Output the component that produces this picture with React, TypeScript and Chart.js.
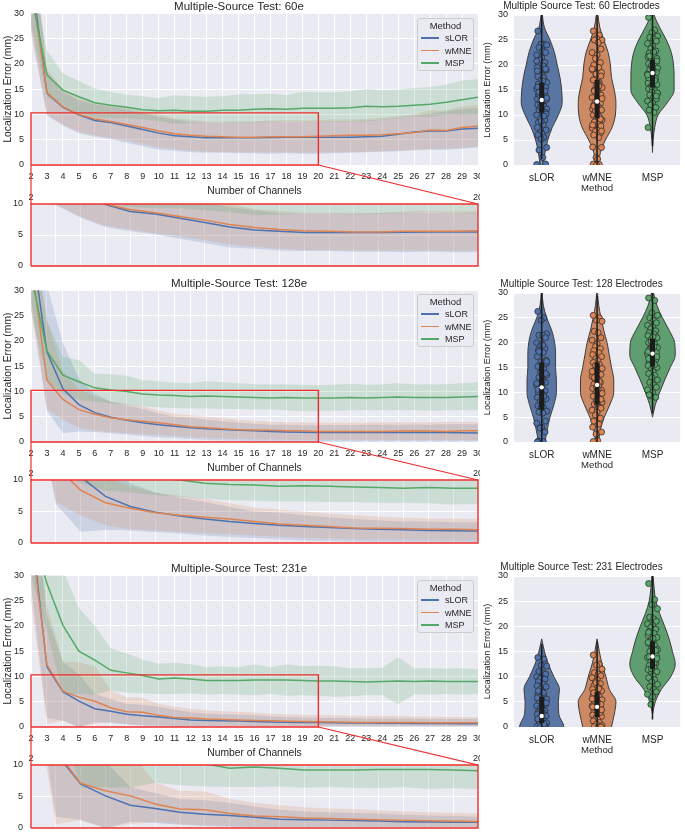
import React, { useEffect, useRef, useState } from 'react';
import { Chart, registerables } from 'chart.js';
Chart.register(...registerables);

const FONT = "'Liberation Sans', Arial, Helvetica, sans-serif";
const TXT = '#262626';
const BG = '#eaeaf2';
const LINE_COLORS = ['#4c72b0', '#dd8452', '#55a868'];
const VIOLIN_FILLS = ['#5975a4', '#cc8963', '#5f9e6e'];
const EDGE = '#3d3d3d';
const RED = '#ee2c2c';

const METHODS = ['sLOR', 'wMNE', 'MSP'];
const CHANNELS = [2, 3, 4, 5, 6, 7, 8, 9, 10, 11, 12, 13, 14, 15, 16, 17, 18, 19, 20, 21, 22, 23, 24, 25, 26, 27, 28, 29, 30];
const ZOOM_X = [2, 20];
const ZOOM_Y = [0, 10];
const RECT_TOPS = [10.3, 10.2, 10.3];

// ---- 60 electrodes ----
const E60_SLOR = [38, 14.2, 11.4, 9.9, 8.8, 8.4, 7.7, 7.0, 6.3, 5.8, 5.6, 5.4, 5.4, 5.4, 5.4, 5.45, 5.5, 5.5, 5.5, 5.5, 5.5, 5.6, 5.7, 6.1, 6.5, 6.7, 6.7, 7.1, 7.25];
const E60_WMNE = [36, 14.3, 11.5, 10.0, 9.1, 8.6, 8.0, 7.4, 6.7, 6.2, 5.9, 5.7, 5.6, 5.5, 5.5, 5.6, 5.6, 5.6, 5.7, 5.8, 5.9, 5.9, 6.0, 6.2, 6.4, 6.9, 6.8, 7.4, 7.7];
const E60_MSP = [34, 17.8, 14.8, 13.5, 12.3, 11.8, 11.4, 10.9, 10.7, 10.8, 10.6, 10.6, 10.8, 10.8, 11.0, 11.1, 11.0, 11.2, 11.2, 11.2, 11.3, 11.6, 11.5, 11.6, 11.8, 12.0, 12.4, 12.9, 13.4];
const E60_SLOR_HI = [48, 18.5, 14.5, 12.8, 12.0, 11.5, 11.0, 10.3, 9.5, 9.0, 8.5, 8.4, 8.4, 8.4, 8.5, 8.6, 8.6, 8.5, 8.5, 8.7, 8.7, 8.8, 9.0, 9.4, 9.8, 10.2, 10.6, 11.0, 11.3];
const E60_SLOR_LO = [27, 9.8, 7.8, 6.3, 5.6, 5.1, 4.4, 3.7, 3.0, 2.8, 2.5, 2.4, 2.4, 2.3, 2.3, 2.2, 2.3, 2.2, 2.2, 2.3, 2.4, 2.5, 2.6, 2.7, 2.9, 3.0, 3.0, 3.2, 3.5];
const E60_WMNE_HI = [46, 19, 15, 13.2, 12.4, 11.8, 11.3, 10.7, 10.0, 9.2, 8.9, 8.6, 8.6, 8.6, 8.6, 8.8, 8.9, 8.8, 8.9, 9.0, 9.0, 9.1, 9.4, 9.7, 10.0, 10.8, 10.8, 11.6, 11.9];
const E60_WMNE_LO = [26, 10.0, 8.0, 6.5, 5.9, 5.3, 4.8, 4.2, 3.5, 3.1, 2.8, 2.6, 2.6, 2.5, 2.5, 2.5, 2.5, 2.4, 2.5, 2.5, 2.6, 2.6, 2.7, 2.8, 3.0, 3.2, 3.2, 3.4, 3.7];
const E60_MSP_HI = [40, 22.6, 18.1, 16.6, 15.1, 14.5, 13.9, 13.6, 13.2, 13.8, 13.6, 13.5, 13.6, 14.0, 14.0, 14.1, 13.8, 14.5, 14.4, 14.4, 14.6, 15.0, 14.8, 14.9, 15.2, 15.4, 15.9, 16.7, 17.0];
const E60_MSP_LO = [28, 13.5, 11.5, 10.2, 9.5, 9.3, 9.3, 9.0, 8.7, 8.2, 8.3, 8.4, 8.4, 8.3, 8.4, 8.5, 8.7, 8.5, 8.4, 8.6, 8.6, 8.6, 8.9, 9.3, 9.7, 9.5, 10.0, 9.9, 10.0];

// ---- 128 electrodes ----
const E128_SLOR = [40, 17.8, 10.5, 7.4, 5.8, 4.9, 4.3, 3.8, 3.4, 3.1, 2.8, 2.6, 2.45, 2.3, 2.2, 2.1, 2.0, 1.95, 1.9, 1.9, 1.9, 1.9, 1.9, 1.9, 1.9, 1.9, 1.9, 1.85, 1.8];
const E128_WMNE = [36, 12.2, 8.4, 6.4, 5.5, 4.8, 4.4, 4.1, 3.8, 3.4, 3.0, 2.8, 2.6, 2.4, 2.35, 2.3, 2.2, 2.2, 2.1, 2.1, 2.1, 2.1, 2.1, 2.15, 2.2, 2.15, 2.1, 2.2, 2.2];
const E128_MSP = [33, 18.0, 13.2, 11.9, 10.7, 10.3, 10.0, 9.5, 9.3, 9.2, 9.0, 9.1, 9.0, 8.9, 8.8, 8.7, 8.8, 8.7, 8.7, 8.7, 8.8, 8.7, 8.8, 8.9, 8.8, 8.8, 8.8, 8.9, 9.0];
const E128_SLOR_HI = [50, 31, 19.5, 12.5, 9.5, 8.0, 7.2, 6.5, 5.7, 5.0, 4.8, 4.4, 4.1, 3.8, 3.6, 3.4, 3.4, 3.3, 3.3, 3.3, 3.3, 3.4, 3.4, 3.4, 3.4, 3.4, 3.5, 3.5, 3.5];
const E128_SLOR_LO = [28, 6.2, 1.8, 2.1, 2.0, 1.75, 1.5, 1.2, 0.95, 0.8, 0.6, 0.4, 0.3, 0.25, 0.2, 0.15, 0.1, 0.1, 0.1, 0.1, 0.1, 0.1, 0.1, 0.1, 0.1, 0.1, 0.1, 0.1, 0.1];
const E128_WMNE_HI = [46, 24, 14, 10.5, 9.0, 8.0, 7.5, 7.0, 6.3, 5.6, 5.3, 5.0, 4.7, 4.4, 4.2, 4.0, 3.9, 3.9, 3.8, 3.8, 3.8, 3.8, 3.9, 3.9, 3.9, 3.9, 4.0, 4.0, 4.0];
const E128_WMNE_LO = [26, 6.5, 4.4, 2.8, 2.2, 2.0, 1.8, 1.6, 1.4, 1.2, 1.0, 0.8, 0.7, 0.6, 0.5, 0.5, 0.45, 0.4, 0.4, 0.4, 0.4, 0.4, 0.4, 0.4, 0.4, 0.4, 0.4, 0.4, 0.4];
const E128_MSP_HI = [42, 24, 16.8, 16.2, 13.5, 13.4, 13.1, 12.2, 12.0, 11.7, 11.6, 12.0, 11.8, 11.6, 11.4, 11.4, 11.4, 11.3, 11.2, 11.3, 11.5, 11.3, 11.4, 11.6, 11.4, 11.4, 11.4, 11.6, 11.8];
const E128_MSP_LO = [26, 12, 9.5, 8.3, 8.0, 7.6, 7.3, 7.0, 6.8, 6.7, 6.6, 6.6, 6.5, 6.5, 6.4, 6.4, 6.3, 6.1, 6.2, 6.2, 6.3, 6.3, 6.3, 6.3, 6.3, 6.2, 6.3, 6.3, 6.3];

// ---- 231 electrodes ----
const E231_SLOR = [40, 11.9, 7.0, 5.1, 3.6, 3.1, 2.5, 2.2, 2.0, 1.7, 1.4, 1.3, 1.25, 1.2, 1.1, 1.0, 0.95, 0.9, 0.9, 0.85, 0.8, 0.8, 0.75, 0.75, 0.7, 0.7, 0.7, 0.65, 0.65];
const E231_WMNE = [38, 12.3, 7.1, 5.9, 5.1, 3.8, 3.0, 2.9, 2.3, 1.9, 1.8, 1.6, 1.5, 1.4, 1.3, 1.25, 1.15, 1.1, 1.05, 1.0, 0.95, 0.9, 0.9, 0.9, 0.9, 0.85, 0.85, 0.85, 0.85];
const E231_MSP = [40, 28.3, 20.1, 15.0, 13.2, 11.2, 10.7, 10.2, 9.5, 9.7, 9.5, 9.2, 9.2, 9.2, 9.3, 9.3, 9.3, 9.2, 9.1, 9.1, 9.0, 8.9, 9.0, 9.1, 9.0, 9.1, 9.0, 9.0, 9.0];
const E231_SLOR_HI = [50, 22, 12.8, 10.5, 6.5, 5.5, 4.6, 4.4, 4.0, 3.4, 2.9, 2.6, 2.5, 2.4, 2.3, 2.1, 2.0, 1.9, 1.8, 1.8, 1.8, 1.7, 1.7, 1.7, 1.7, 1.6, 1.6, 1.6, 1.6];
const E231_SLOR_LO = [28, 1.8, 1.3, 0.0, 1.0, 0.8, 0.5, 0.3, 0.2, 0.1, 0.1, 0.1, 0.1, 0.1, 0.1, 0.1, 0.1, 0.1, 0.1, 0.1, 0.1, 0.1, 0.1, 0.1, 0.1, 0.1, 0.1, 0.1, 0.1];
const E231_WMNE_HI = [48, 24, 13.0, 12.8, 12.0, 7.2, 5.9, 5.8, 4.6, 4.0, 3.6, 3.3, 3.1, 3.0, 2.8, 2.6, 2.5, 2.4, 2.3, 2.3, 2.2, 2.2, 2.2, 2.2, 2.1, 2.1, 2.0, 2.0, 2.0];
const E231_WMNE_LO = [25, 0.6, 1.2, 0.0, 0.6, 1.0, 0.6, 0.4, 0.3, 0.2, 0.2, 0.2, 0.2, 0.2, 0.2, 0.2, 0.2, 0.2, 0.2, 0.2, 0.2, 0.2, 0.2, 0.2, 0.2, 0.2, 0.2, 0.2, 0.2];
const E231_MSP_HI = [50, 38, 31, 23.5, 20.0, 15.5, 14.6, 13.3, 12.5, 12.7, 12.4, 11.8, 12.0, 11.8, 12.4, 11.8, 12.4, 12.0, 12.1, 12.0, 11.6, 11.6, 11.7, 13.8, 11.6, 11.6, 11.5, 11.6, 11.4];
const E231_MSP_LO = [30, 19, 6.4, 6.5, 6.4, 7.2, 6.8, 6.6, 6.5, 6.5, 6.6, 6.4, 6.5, 6.4, 6.3, 6.5, 6.2, 6.3, 6.2, 6.0, 6.1, 6.3, 6.3, 4.5, 6.4, 6.4, 6.5, 6.4, 6.5];

// ---- violin shapes: half widths (category units) on Y_GRID ----
const Y_GRID = [-2.5, 0, 2.5, 5, 7.5, 10, 12.5, 15, 17.5, 20, 22.5, 25, 27.5, 30, 32.5];
const W60_SLOR = [0.02, 0.03, 0.06, 0.11, 0.19, 0.3, 0.37, 0.36, 0.33, 0.28, 0.23, 0.15, 0.05, 0.012, 0.002];
const W60_WMNE = [0.02, 0.03, 0.06, 0.15, 0.27, 0.33, 0.34, 0.31, 0.26, 0.24, 0.2, 0.12, 0.05, 0.015, 0.002];
const W60_MSP = [null, null, 0, 0.01, 0.04, 0.1, 0.27, 0.39, 0.39, 0.38, 0.34, 0.25, 0.13, 0.03, 0.003];
const W128_SLOR = [0.04, 0.06, 0.1, 0.15, 0.22, 0.265, 0.265, 0.25, 0.25, 0.235, 0.18, 0.09, 0.03, 0.008, 0.001];
const W128_WMNE = [0.02, 0.03, 0.06, 0.13, 0.23, 0.3, 0.3, 0.26, 0.22, 0.18, 0.12, 0.07, 0.03, 0.008, 0.001];
const W128_MSP = [null, null, null, 0, 0.05, 0.13, 0.22, 0.32, 0.41, 0.4, 0.3, 0.18, 0.08, 0.02, 0.003];
const W231_SLOR = [0.4, 0.4, 0.31, 0.3, 0.32, 0.22, 0.12, 0.05, 0, null, null, null, null, null, null];
const W231_WMNE = [0.24, 0.26, 0.31, 0.34, 0.22, 0.16, 0.09, 0.04, 0, null, null, null, null, null, null];
const W231_MSP = [null, null, 0, 0.05, 0.16, 0.33, 0.41, 0.36, 0.3, 0.22, 0.13, 0.06, 0.03, 0.01, 0.002];

// ---- strip points ----
const P60_SLOR = [26.8, 24.2, 24.2, 24.0, 23.5, 22.8, 22.5, 22.0, 21.5, 21.0, 20.5, 20.0, 19.8, 19.5, 19.0, 18.5, 18.0, 17.7, 17.3, 17.0, 16.5, 16.0, 15.8, 15.5, 15.2, 15.0, 14.5, 14.2, 14.0, 13.5, 13.2, 13.0, 12.7, 12.3, 12.0, 11.8, 11.5, 11.2, 11.0, 10.7, 10.5, 10.0, 9.5, 9.2, 9.0, 8.5, 8.0, 7.5, 7.0, 6.5, 6.2, 6.0, 5.5, 5.2, 3.5, 3.0, 1.5, 0.2, 0.1, 12.5, 13.8, 14.8, 16.2, 17.5, 18.8, 10.2, 11.6, 12.9, 15.6, 9.8, 8.8, 13.4, 14.6, 16.8, 19.2, 20.8];
const P60_WMNE = [26.8, 26.0, 25.3, 25.0, 25.0, 24.5, 23.2, 22.5, 22.0, 21.3, 20.5, 20.0, 19.5, 19.0, 18.5, 18.0, 17.5, 17.0, 16.5, 16.0, 15.5, 15.0, 14.5, 14.0, 13.5, 13.0, 12.7, 12.3, 12.0, 11.5, 11.2, 11.0, 10.5, 10.2, 10.0, 9.7, 9.4, 9.0, 8.6, 8.2, 7.8, 7.4, 7.0, 6.7, 6.4, 6.0, 5.5, 3.6, 3.5, 1.5, 1.2, 0.2, 0.1, 0.0, 13.3, 14.8, 16.3, 17.8, 19.2, 12.0, 10.8, 9.2, 11.8, 15.8, 8.0, 6.8, 18.2];
const P60_MSP = [29.5, 27.0, 26.5, 25.8, 25.5, 25.2, 24.8, 24.3, 23.8, 23.3, 22.8, 22.4, 22.0, 21.6, 21.3, 21.0, 20.6, 20.3, 20.0, 19.7, 19.4, 19.1, 18.8, 18.5, 18.2, 17.9, 17.6, 17.3, 17.0, 16.7, 16.4, 16.1, 15.8, 15.5, 15.2, 14.9, 14.6, 14.3, 14.0, 13.6, 13.2, 12.8, 12.4, 12.0, 11.5, 11.0, 10.5, 7.5, 20.8, 19.9, 18.6, 17.4, 16.9, 15.6, 14.4, 21.8, 22.6, 13.8, 18.0, 19.5];
const P128_SLOR = [26.3, 25.0, 24.5, 21.8, 21.5, 21.5, 21.0, 20.0, 19.8, 19.2, 18.8, 18.5, 18.0, 17.2, 16.5, 16.0, 15.5, 15.2, 14.8, 14.2, 13.5, 13.0, 12.5, 12.0, 11.5, 11.2, 10.8, 10.3, 10.0, 9.5, 9.0, 8.7, 8.2, 7.8, 7.3, 6.8, 6.5, 6.2, 6.0, 5.8, 4.2, 3.8, 3.0, 2.8, 2.0, 0.2, 0.1, 0.0, 15.8, 14.0, 12.2, 10.6, 9.2, 7.0, 16.2, 18.2, 19.5, 13.8, 11.8];
const P128_WMNE = [25.5, 25.0, 24.5, 24.3, 22.3, 22.0, 21.0, 20.5, 19.8, 19.2, 18.8, 18.4, 18.0, 17.6, 17.2, 16.8, 16.4, 16.0, 15.6, 15.2, 14.8, 14.4, 14.0, 13.6, 13.2, 12.8, 12.4, 12.0, 11.6, 11.2, 10.8, 10.4, 10.0, 9.6, 9.2, 8.8, 8.4, 8.0, 7.6, 7.2, 6.8, 6.4, 6.0, 5.4, 4.8, 4.2, 3.6, 3.0, 2.0, 1.6, 0.3, 0.1, 12.2, 11.0, 9.8, 13.0, 10.6, 8.6, 14.2, 7.8, 15.4];
const P128_MSP = [29.0, 28.5, 26.0, 25.5, 25.0, 24.5, 24.0, 23.5, 23.2, 22.8, 22.4, 22.0, 21.7, 21.4, 21.0, 20.7, 20.4, 20.0, 19.7, 19.4, 19.0, 18.7, 18.4, 18.0, 17.7, 17.4, 17.0, 16.6, 16.2, 15.8, 15.4, 15.0, 14.6, 14.2, 13.8, 13.4, 13.0, 12.5, 12.0, 11.5, 11.0, 10.5, 10.0, 9.3, 9.0, 9.5, 19.2, 18.2, 17.2, 20.2, 21.2, 16.8, 15.6, 18.9];
const P231_SLOR = [13.8, 13.5, 12.3, 12.1, 11.0, 10.8, 10.5, 10.0, 9.8, 9.6, 9.5, 9.0, 8.5, 8.2, 8.0, 7.5, 7.0, 6.5, 6.2, 6.0, 5.5, 5.2, 5.0, 4.5, 4.2, 4.0, 3.5, 3.2, 3.0, 2.8, 2.5, 2.2, 2.0, 1.8, 1.5, 1.2, 1.0, 0.8, 0.5, 0.3, 0.2, 0.1, 0.0, 0.0, 0.0, 7.2, 6.8, 5.8, 4.8, 3.8, 2.6, 1.6, 0.6];
const P231_WMNE = [14.3, 12.5, 12.3, 11.5, 10.8, 10.5, 10.2, 9.8, 9.4, 9.0, 8.6, 8.2, 7.8, 7.5, 7.2, 6.9, 6.6, 6.3, 6.0, 5.7, 5.4, 5.1, 4.8, 4.5, 4.2, 3.9, 3.6, 3.3, 3.0, 2.7, 2.4, 2.1, 1.8, 1.5, 1.2, 0.9, 0.6, 0.3, 0.1, 0.0, 0.0, 5.6, 4.6, 3.8, 2.9, 6.8, 7.6, 4.0, 3.4, 8.8];
const P231_MSP = [28.5, 25.3, 24.3, 23.5, 21.8, 21.5, 21.0, 20.5, 20.2, 19.8, 19.4, 19.0, 18.6, 18.2, 17.8, 17.4, 17.0, 16.6, 16.2, 15.8, 15.4, 15.0, 14.6, 14.2, 13.8, 13.4, 13.0, 12.6, 12.2, 11.8, 11.4, 11.0, 10.6, 10.2, 9.8, 9.4, 9.0, 8.5, 8.0, 7.5, 7.0, 6.5, 6.0, 4.5, 15.2, 14.0, 12.8, 16.8, 13.6, 11.6, 17.6, 18.8];

// ---- inner box stats: [whisker low, q1, median, q3, whisker high] ----
const B60_SLOR = [1.2, 10.5, 13.0, 16.5, 31];
const B60_WMNE = [0, 9.3, 12.7, 17.0, 31];
const B60_MSP = [3.8, 15.5, 18.4, 21.0, 31];
const B128_SLOR = [0, 6.5, 11.0, 16.0, 31];
const B128_WMNE = [0, 7.5, 11.5, 16.0, 29.5];
const B128_MSP = [5.8, 15.2, 17.8, 20.8, 31];
const B231_SLOR = [0, 0.8, 2.2, 6.0, 16.5];
const B231_WMNE = [0, 2.0, 4.0, 7.0, 17.0];
const B231_MSP = [1.5, 11.5, 14.0, 17.0, 31];

const JITTER = [-0.07, 0.04, -0.01, 0.09, -0.05, 0.02, 0.07, -0.09, 0.0, -0.03, 0.06, -0.06, 0.03, -0.08, 0.08, -0.02, 0.01];

const ROWS = [
  { title: 'Multiple-Source Test: 60e', vtitle: 'Multiple Source Test: 60 Electrodes',
    mean: [E60_SLOR, E60_WMNE, E60_MSP], hi: [E60_SLOR_HI, E60_WMNE_HI, E60_MSP_HI], lo: [E60_SLOR_LO, E60_WMNE_LO, E60_MSP_LO],
    vw: [W60_SLOR, W60_WMNE, W60_MSP], pts: [P60_SLOR, P60_WMNE, P60_MSP], box: [B60_SLOR, B60_WMNE, B60_MSP] },
  { title: 'Multiple-Source Test: 128e', vtitle: 'Multiple Source Test: 128 Electrodes',
    mean: [E128_SLOR, E128_WMNE, E128_MSP], hi: [E128_SLOR_HI, E128_WMNE_HI, E128_MSP_HI], lo: [E128_SLOR_LO, E128_WMNE_LO, E128_MSP_LO],
    vw: [W128_SLOR, W128_WMNE, W128_MSP], pts: [P128_SLOR, P128_WMNE, P128_MSP], box: [B128_SLOR, B128_WMNE, B128_MSP] },
  { title: 'Multiple-Source Test: 231e', vtitle: 'Multiple Source Test: 231 Electrodes',
    mean: [E231_SLOR, E231_WMNE, E231_MSP], hi: [E231_SLOR_HI, E231_WMNE_HI, E231_MSP_HI], lo: [E231_SLOR_LO, E231_WMNE_LO, E231_MSP_LO],
    vw: [W231_SLOR, W231_WMNE, W231_MSP], pts: [P231_SLOR, P231_WMNE, P231_MSP], box: [B231_SLOR, B231_WMNE, B231_MSP] },
];

// ---- layout ----
const MAIN_LEFT = 0, MAIN_W = 480;
const MAIN_TOP = [0, 277, 562];
const MAIN_H = [200, 200, 200];
const INSET_TOP = [190, 466, 751];
const INSET_H = [80, 81, 81];
const VIO_LEFT = 480, VIO_W = 205;
const VIO_TOP = [0, 278, 561];
const VIO_H = [200, 199, 201];
const LEGEND_TOP = [18, 294, 580];

function rgba(hex: string, a: number) {
  const n = parseInt(hex.slice(1), 16);
  return `rgba(${(n >> 16) & 255},${(n >> 8) & 255},${n & 255},${a})`;
}
const xy = (ys: number[]) => CHANNELS.map((x, i) => ({ x, y: ys[i] }));

const bgPlugin = {
  id: 'bgArea',
  beforeDraw(chart: any) {
    const { ctx, chartArea: a } = chart;
    ctx.save();
    ctx.fillStyle = BG;
    ctx.fillRect(a.left, a.top, a.right - a.left, a.bottom - a.top);
    ctx.restore();
  },
};

function lineDatasets(row: any, rectTop: number | null) {
  const ds: any[] = [];
  for (let k = 0; k < 3; k++) {
    ds.push({ type: 'line', data: xy(row.hi[k]), borderWidth: 0, borderColor: 'transparent', pointRadius: 0, fill: false, order: 30 - k });
    ds.push({ type: 'line', data: xy(row.lo[k]), borderWidth: 0, borderColor: 'transparent', pointRadius: 0, fill: '-1', backgroundColor: rgba(LINE_COLORS[k], 0.2), order: 30 - k });
  }
  for (let k = 0; k < 3; k++) {
    ds.push({ type: 'line', data: xy(row.mean[k]), borderColor: LINE_COLORS[k], borderWidth: 1.5, pointRadius: 0, fill: false, order: 10 - k });
  }
  if (rectTop !== null) {
    ds.push({
      type: 'line',
      data: [
        { x: ZOOM_X[0], y: ZOOM_Y[0] }, { x: ZOOM_X[1], y: ZOOM_Y[0] }, { x: ZOOM_X[1], y: rectTop },
        { x: ZOOM_X[0], y: rectTop }, { x: ZOOM_X[0], y: ZOOM_Y[0] },
      ],
      borderColor: RED, borderWidth: 1.4, pointRadius: 0, fill: false, clip: false, order: 0,
    });
  }
  return ds;
}

const tickFont = { family: FONT, size: 9 };

function mainConfig(row: any, r: number): any {
  return {
    type: 'line',
    data: { datasets: lineDatasets(row, RECT_TOPS[r]) },
    plugins: [bgPlugin],
    options: {
      animation: false, responsive: false, events: [],
      layout: { padding: { left: 0, right: 2, top: 0, bottom: 0 } },
      plugins: {
        legend: { display: false }, tooltip: { enabled: false },
        title: { display: true, text: row.title, color: TXT, font: { family: FONT, size: 11.5, weight: 'normal', lineHeight: 1.15 }, padding: { top: 0, bottom: 0 } },
      },
      scales: {
        x: {
          type: 'linear', min: 2, max: 30,
          grid: { color: '#ffffff', lineWidth: 1, drawTicks: false }, border: { display: false },
          ticks: { stepSize: 1, autoSkip: false, maxRotation: 0, padding: 6, color: TXT, font: tickFont },
          title: { display: true, text: 'Number of Channels', color: TXT, font: { family: FONT, size: 10.3 }, padding: { top: 0, bottom: 2.8 } },
          afterFit: (s: any) => { s.height = 35; s.paddingLeft = 0; s.paddingRight = 0; },
        },
        y: {
          type: 'linear', min: 0, max: 30,
          grid: { color: '#ffffff', lineWidth: 1, drawTicks: false }, border: { display: false },
          ticks: { stepSize: 5, padding: 7, color: TXT, font: tickFont },
          title: { display: true, text: 'Localization Error (mm)', color: TXT, font: { family: FONT, size: 10.3 }, padding: { top: 1.5, bottom: 0 } },
          afterFit: (s: any) => { s.width = 31; s.paddingTop = 0; s.paddingBottom = 0; },
        },
      },
    },
  };
}

function insetConfig(row: any): any {
  const ds = lineDatasets(row, null);
  ds.push({
    type: 'line',
    data: [
      { x: ZOOM_X[0], y: ZOOM_Y[0] }, { x: ZOOM_X[1], y: ZOOM_Y[0] }, { x: ZOOM_X[1], y: ZOOM_Y[1] },
      { x: ZOOM_X[0], y: ZOOM_Y[1] }, { x: ZOOM_X[0], y: ZOOM_Y[0] },
    ],
    borderColor: RED, borderWidth: 1.4, pointRadius: 0, fill: false, clip: false, order: 0,
  });
  return {
    type: 'line',
    data: { datasets: ds },
    plugins: [bgPlugin],
    options: {
      animation: false, responsive: false, events: [],
      layout: { padding: { left: 0, right: 2, top: 0, bottom: 4 } },
      plugins: { legend: { display: false }, tooltip: { enabled: false } },
      scales: {
        x: {
          type: 'linear', position: 'top', min: ZOOM_X[0], max: ZOOM_X[1],
          grid: { color: 'rgba(255,255,255,0.85)', lineWidth: 1, drawTicks: false }, border: { display: false },
          ticks: {
            stepSize: 1, autoSkip: false, maxRotation: 0, padding: 1, color: TXT, font: tickFont,
            callback: (v: number) => (v === ZOOM_X[0] || v === ZOOM_X[1] ? String(v) : ''),
          },
          afterFit: (s: any) => { s.height = 14; s.paddingLeft = 0; s.paddingRight = 0; },
        },
        y: {
          type: 'linear', min: ZOOM_Y[0], max: ZOOM_Y[1],
          grid: { color: '#ffffff', lineWidth: 1, drawTicks: false }, border: { display: false },
          ticks: { stepSize: 5, padding: 8, color: TXT, font: tickFont },
          afterFit: (s: any) => { s.width = 31; s.paddingTop = 0; s.paddingBottom = 0; },
        },
      },
    },
  };
}

function violinConfig(row: any): any {
  const ds: any[] = [];
  for (let k = 0; k < 3; k++) {
    const w = row.vw[k];
    for (const sgn of [1, -1]) {
      const data = Y_GRID.map((y, i) => (w[i] === null ? null : { x: k + sgn * w[i], y })).filter((p) => p !== null);
      ds.push({
        type: 'line', indexAxis: 'y', data, borderColor: EDGE, borderWidth: 1, backgroundColor: VIOLIN_FILLS[k],
        fill: { value: k }, pointRadius: 0, cubicInterpolationMode: 'monotone', order: 50,
      });
    }
    ds.push({
      type: 'scatter', data: row.pts[k].map((v: number, i: number) => ({ x: k + JITTER[i % JITTER.length], y: v })),
      backgroundColor: LINE_COLORS[k], borderColor: '#2e2e2e', borderWidth: 0.8, pointRadius: 3, order: 20,
    });
    const b = row.box[k];
    ds.push({ type: 'line', data: [{ x: k, y: b[0] }, { x: k, y: b[4] }], borderColor: '#1c1c1c', borderWidth: 1.5, pointRadius: 0, fill: false, order: 10 });
    ds.push({ type: 'line', data: [{ x: k, y: b[1] }, { x: k, y: b[3] }], borderColor: '#1c1c1c', borderWidth: 5, borderCapStyle: 'butt', pointRadius: 0, fill: false, order: 9 });
    ds.push({ type: 'scatter', data: [{ x: k, y: b[2] }], backgroundColor: '#ffffff', borderWidth: 0, pointRadius: 2.2, order: 1 });
  }
  return {
    type: 'scatter',
    data: { datasets: ds },
    plugins: [bgPlugin],
    options: {
      animation: false, responsive: false, events: [],
      layout: { padding: { left: 0, right: 2, top: 0, bottom: 0 } },
      plugins: {
        legend: { display: false }, tooltip: { enabled: false },
        title: { display: true, text: row.vtitle, color: TXT, font: { family: FONT, size: 10, weight: 'normal', lineHeight: 1.2 }, padding: { top: 0, bottom: 3 } },
      },
      scales: {
        x: {
          type: 'linear', min: -0.5, max: 2.5,
          grid: { display: false, drawTicks: false }, border: { display: false },
          afterBuildTicks: (s: any) => { s.ticks = [0, 1, 2].map((v) => ({ value: v })); },
          ticks: { autoSkip: false, maxRotation: 0, padding: 7, color: TXT, font: { family: FONT, size: 10 }, callback: (v: number) => METHODS[v] },
          title: { display: true, text: 'Method', color: TXT, font: { family: FONT, size: 9.6 }, padding: { top: 0, bottom: 6 } },
          afterFit: (s: any) => { s.height = 35; s.paddingLeft = 0; s.paddingRight = 0; },
        },
        y: {
          type: 'linear', min: 0, max: 30,
          grid: { color: '#ffffff', lineWidth: 1, drawTicks: false }, border: { display: false },
          ticks: { stepSize: 5, padding: 6, color: TXT, font: tickFont },
          title: { display: true, text: 'Localization Error (mm)', color: TXT, font: { family: FONT, size: 9.2 }, padding: { top: 1.5, bottom: 0 } },
          afterFit: (s: any) => { s.width = 34; s.paddingTop = 0; s.paddingBottom = 0; },
        },
      },
    },
  };
}

function Legend({ top }: { top: number }) {
  return (
    <div style={{ position: 'absolute', left: 417, top, width: 57, height: 53, background: 'rgba(234,234,242,0.8)', border: '1px solid #cccccc', borderRadius: 3, boxSizing: 'border-box', fontFamily: FONT, color: TXT }}>
      <div style={{ position: 'absolute', top: 1, left: 0, width: '100%', textAlign: 'center', fontSize: 9.5, lineHeight: '12px' }}>Method</div>
      {METHODS.map((m, i) => (
        <div key={m} style={{ position: 'absolute', left: 3, top: 13 + i * 12.6, height: 12, display: 'flex', alignItems: 'center' }}>
          <span style={{ display: 'inline-block', width: 18, height: 1.5, background: LINE_COLORS[i], marginRight: 6 }} />
          <span style={{ fontSize: 9, lineHeight: '12px' }}>{m}</span>
        </div>
      ))}
    </div>
  );
}

export default function App() {
  const mainRefs = [useRef<HTMLCanvasElement>(null), useRef<HTMLCanvasElement>(null), useRef<HTMLCanvasElement>(null)];
  const insetRefs = [useRef<HTMLCanvasElement>(null), useRef<HTMLCanvasElement>(null), useRef<HTMLCanvasElement>(null)];
  const vioRefs = [useRef<HTMLCanvasElement>(null), useRef<HTMLCanvasElement>(null), useRef<HTMLCanvasElement>(null)];
  const [conns, setConns] = useState<any[]>([]);

  useEffect(() => {
    const charts: Chart[] = [];
    const lines: any[] = [];
    ROWS.forEach((row, r) => {
      const m = new Chart(mainRefs[r].current as HTMLCanvasElement, mainConfig(row, r));
      const ins = new Chart(insetRefs[r].current as HTMLCanvasElement, insetConfig(row));
      const v = new Chart(vioRefs[r].current as HTMLCanvasElement, violinConfig(row));
      charts.push(m, ins, v);
      const my0 = m.scales.y.getPixelForValue(ZOOM_Y[0]) + MAIN_TOP[r];
      const iy1 = ins.scales.y.getPixelForValue(ZOOM_Y[1]) + INSET_TOP[r];
      for (const xv of ZOOM_X) {
        lines.push({
          x1: m.scales.x.getPixelForValue(xv) + MAIN_LEFT, y1: my0,
          x2: ins.scales.x.getPixelForValue(xv) + MAIN_LEFT, y2: iy1,
        });
      }
    });
    setConns(lines);
    return () => { charts.forEach((c) => c.destroy()); };
  }, []);

  return (
    <div style={{ position: 'absolute', left: 0, top: 0, width: 685, height: 832, background: '#ffffff', overflow: 'hidden' }}>
      {ROWS.map((row, r) => (
        <React.Fragment key={r}>
          <canvas ref={mainRefs[r]} width={MAIN_W} height={MAIN_H[r]} style={{ position: 'absolute', left: MAIN_LEFT, top: MAIN_TOP[r], width: MAIN_W, height: MAIN_H[r] }} />
          <canvas ref={insetRefs[r]} width={MAIN_W} height={INSET_H[r]} style={{ position: 'absolute', left: MAIN_LEFT, top: INSET_TOP[r], width: MAIN_W, height: INSET_H[r] }} />
          <canvas ref={vioRefs[r]} width={VIO_W} height={VIO_H[r]} style={{ position: 'absolute', left: VIO_LEFT, top: VIO_TOP[r], width: VIO_W, height: VIO_H[r] }} />
          <Legend top={LEGEND_TOP[r]} />
        </React.Fragment>
      ))}
      <svg width={685} height={832} style={{ position: 'absolute', left: 0, top: 0, pointerEvents: 'none' }}>
        {conns.map((c, i) => (
          <line key={i} x1={c.x1} y1={c.y1} x2={c.x2} y2={c.y2} stroke={RED} strokeWidth={1.2} />
        ))}
      </svg>
    </div>
  );
}
